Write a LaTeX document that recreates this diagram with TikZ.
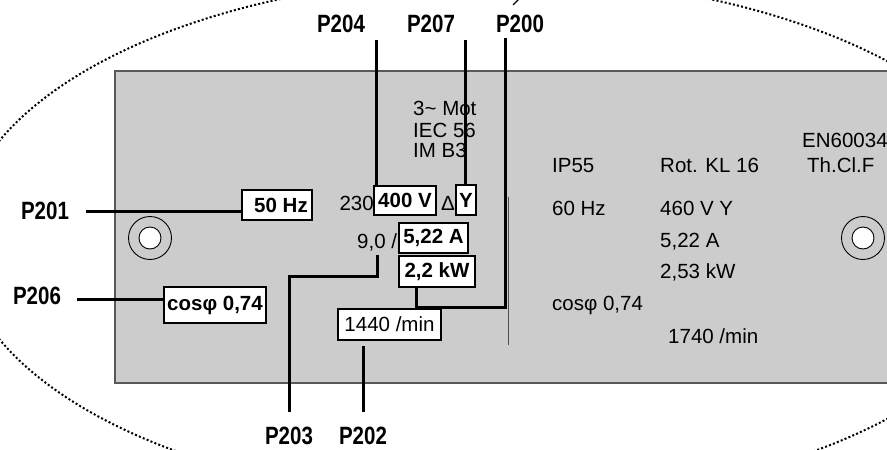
\documentclass[tikz,border=0pt]{standalone}
\usepackage{fontspec}
\setmainfont{Liberation Sans}
\newfontfamily\plabfont[FakeStretch=0.82]{Liberation Sans}
\begin{document}
\begin{tikzpicture}[x=1pt,y=-1pt,
  plab/.style={font=\plabfont\bfseries\fontsize{25}{25}\selectfont, inner sep=0pt},
  ptxt/.style={font=\fontsize{20.5}{22}\selectfont, anchor=base west, inner sep=0pt},
  pbox/.style={draw, line width=2.8pt, fill=white, inner sep=0pt, font=\bfseries\fontsize{20.5}{22}\selectfont},
  nbox/.style={draw, line width=2.8pt, fill=white, inner sep=0pt, font=\fontsize{20.5}{22}\selectfont},
  lead/.style={line width=3pt, line cap=butt},
  sep/.style={line width=1pt, black!70}]
\useasboundingbox (0,0) rectangle (887,450);
\clip (0,0) rectangle (887,450);
% dotted outline
\draw[line width=2pt, dash pattern=on 2pt off 2.2pt] (495,240) ellipse [x radius=535pt, y radius=263pt];
\coordinate (t1) at (519,-1);
\coordinate (t2) at (513,5);
\draw[line width=1.4pt] (t1) -- (t2);
% plate
\draw[fill=black!20, draw=black!65, line width=1.2pt] (115,71) rectangle (900,383);
% holes
\draw[line width=0.9pt] (150,238) circle [radius=21.5pt];
\draw[line width=0.9pt, fill=white] (150,238) circle [radius=11pt];
\draw[line width=0.9pt] (863,238) circle [radius=21.5pt];
\draw[line width=0.9pt, fill=white] (863,238) circle [radius=11pt];
% separator
\coordinate (s1) at (508,197);
\coordinate (s2) at (508,345);
\draw[sep] (s1) -- (s2);
% plate texts
\node[ptxt] (m1) at (413,115) {3\textasciitilde\ Mot};
\node[ptxt] (m2) at (413,137) {IEC 56};
\node[ptxt] (m3) at (413,157) {IM B3};
\node[ptxt] (en) at (802,147) {EN60034};
\node[ptxt] (ip) at (552,172) {IP55};
\node[ptxt] (rot) at (660,172) {Rot. KL 16};
\node[ptxt] (th) at (807,172) {Th.Cl.F};
\node[ptxt] (hz60) at (552,215) {60 Hz};
\node[ptxt] (v460) at (660,215) {460 V Y};
\node[ptxt] (a522) at (660,247) {5,22 A};
\node[ptxt] (kw253) at (660,278) {2,53 kW};
\node[ptxt] (cos2) at (552,310) {cosφ 0,74};
\node[ptxt] (rpm2) at (668,343) {1740 /min};
\node[ptxt, anchor=base east] (v230) at (374,210) {230};
\node[ptxt] (dl) at (441,210) {Δ/};
\node[ptxt] (a90) at (357,248) {9,0 /};
% boxes
\node[pbox, minimum width=70pt, minimum height=30pt] (bhz) at (277,205) {\hspace*{8pt}50 Hz};
\node[pbox, minimum width=62pt, minimum height=29pt] (bv) at (405,200.5) {400 V};
\node[pbox, minimum width=20pt, minimum height=30pt] (by) at (466,200) {Y};
\node[pbox, minimum width=69pt, minimum height=30pt] (ba) at (433.5,238) {5,22 A};
\node[pbox, minimum width=76pt, minimum height=31pt] (bkw) at (437,271.5) {2,2 kW};
\node[nbox, minimum width=103pt, minimum height=31pt] (brpm) at (389.5,324.5) {1440 /min};
\node[pbox, minimum width=102pt, minimum height=36pt] (bcos) at (215,305) {cosφ 0,74};
% parameter labels
\node[plab] (p204) at (341,24) {P204};
\node[plab] (p207) at (431,24) {P207};
\node[plab] (p200) at (520,24) {P200};
\node[plab] (p201) at (45,211) {P201};
\node[plab] (p206) at (37,296) {P206};
\node[plab] (p203) at (289,436) {P203};
\node[plab] (p202) at (363,436) {P202};
% connector ends
\coordinate (c204) at (376,40);
\coordinate (c207) at (465,40);
\coordinate (c200) at (505,38);
\coordinate (k200) at (505,307);
\coordinate (c201) at (86,211.5);
\coordinate (c206) at (77,299);
\coordinate (c203a) at (377,255);
\coordinate (c203b) at (289,276);
\coordinate (c203c) at (289,412);
\coordinate (c202a) at (363,346);
\coordinate (c202b) at (363,412);
% connectors
\draw[lead] (c204) -- (c204 |- bv.north);
\draw[lead] (c207) -- (c207 |- by.north);
\draw[lead] (c200) -- (k200) -- (416,307) -- (416,287);
\draw[lead] (c201) -- (bhz.west |- c201);
\draw[lead] (c206) -- (bcos.west |- c206);
\draw[lead] (c203a) |- (c203b) -- (c203c);
\draw[lead] (c202a) -- (c202b);
\end{tikzpicture}
\end{document}
